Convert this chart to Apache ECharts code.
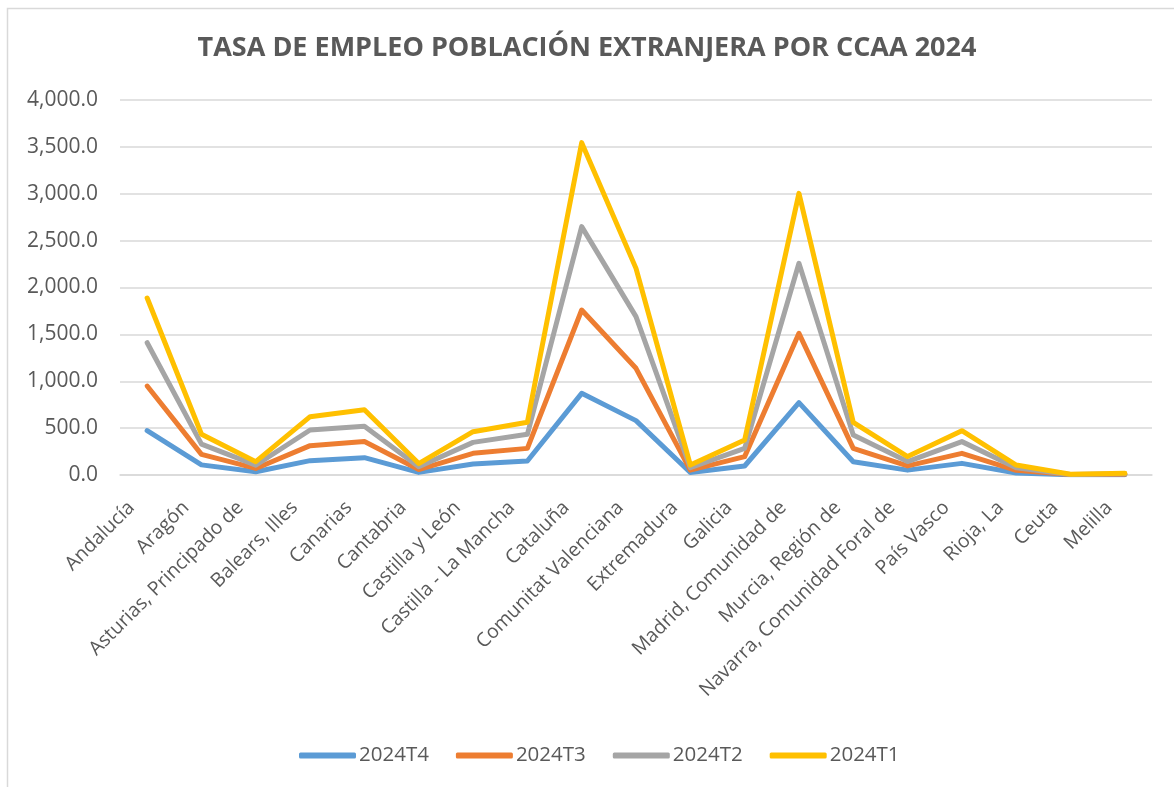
<!DOCTYPE html>
<html>
<head>
<meta charset="utf-8">
<title>Tasa de empleo población extranjera por CCAA 2024</title>
<script src="https://cdn.jsdelivr.net/npm/echarts@6/dist/echarts.min.js"></script>
<style>
	html, body { margin: 0; padding: 0; background: #fff; }
	#myChart { width: 1174px; height: 787px; }
</style>
</head>
<body>
<div id="myChart"></div>
<script type="text/javascript">
	// datos (líneas apiladas, cada serie es su propio valor)
	var categorias = ['Andalucía', 'Aragón', 'Asturias, Principado de', 'Balears, Illes', 'Canarias',
		'Cantabria', 'Castilla y León', 'Castilla - La Mancha', 'Cataluña', 'Comunitat Valenciana',
		'Extremadura', 'Galicia', 'Madrid, Comunidad de', 'Murcia, Región de', 'Navarra, Comunidad Foral de',
		'País Vasco', 'Rioja, La', 'Ceuta', 'Melilla'];
	var t4 = [473, 108, 35, 153, 185, 28, 117, 149, 871, 580, 26, 96, 772, 142, 52, 124, 22, 2, 4];
	var t3 = [476, 112, 35, 160, 172, 30, 114, 135, 889, 558, 26, 100, 739, 142, 45, 107, 28, 2, 5];
	var t2 = [462, 110, 35, 167, 163, 30, 117, 150, 889, 551, 27, 88, 747, 143, 46, 125, 28, 2, 5];
	var t1 = [477, 105, 37, 142, 175, 34, 114, 128, 896, 515, 28, 89, 746, 135, 54, 117, 28, 2, 4];
	var nombres = ['2024T4', '2024T3', '2024T2', '2024T1'];
	var colores = ['#5B9BD5', '#ED7D31', '#A5A5A5', '#FFC000'];

	var myChart = echarts.init(document.getElementById('myChart'));
	var fuente = '"Open Sans", "Noto Sans", sans-serif';

	var series = [t4, t3, t2, t1].map(function (d, i) {
		return {
			name: nombres[i],
			type: 'line',
			stack: 'total',
			data: d,
			showSymbol: false,
			symbol: 'none',
			lineStyle: { width: 5, color: colores[i], cap: 'round', join: 'round' },
			itemStyle: { color: colores[i] }
		};
	});

	option = {
		backgroundColor: '#fff',
		animation: false,
		color: colores,
		title: {
			text: 'TASA DE EMPLEO POBLACIÓN EXTRANJERA POR CCAA 2024',
			left: 'center',
			top: 30,
			textStyle: { fontFamily: fuente, fontSize: 27, fontWeight: 'bold', color: '#595959' }
		},
		graphic: [{
			type: 'rect',
			shape: { x: 7.5, y: 8.5, width: 1300, height: 900 },
			style: { fill: 'none', stroke: '#d9d9d9', lineWidth: 1.5 },
			silent: true
		}],
		legend: {
			data: nombres,
			top: 740,
			left: 294,
			itemWidth: 57,
			itemHeight: 6,
			itemGap: 27,
			icon: 'roundRect',
			textStyle: { fontFamily: fuente, fontSize: 20.5, color: '#595959', padding: [0, 0, 0, -2] }
		},
		grid: { left: 120, right: 22, top: 100, bottom: 312 },
		xAxis: {
			type: 'category',
			boundaryGap: true,
			data: categorias,
			axisLine: { lineStyle: { color: '#d9d9d9', width: 1.5 } },
			axisTick: { show: false },
			axisLabel: {
				interval: 0,
				rotate: 45,
				margin: 14,
				padding: [0, 22, 0, 0],
				fontFamily: fuente,
				fontSize: 19.5,
				color: '#595959'
			}
		},
		yAxis: {
			type: 'value',
			min: 0,
			max: 4000,
			interval: 500,
			axisLine: { show: false },
			axisTick: { show: false },
			splitLine: { lineStyle: { color: '#d9d9d9', width: 1.5 } },
			axisLabel: {
				margin: 22,
				fontFamily: fuente,
				fontSize: 21,
				color: '#595959',
				formatter: function (v) {
					return v.toLocaleString('en-US', { minimumFractionDigits: 1, maximumFractionDigits: 1 });
				}
			}
		},
		series: series
	};
	myChart.setOption(option);
</script>
</body>
</html>
